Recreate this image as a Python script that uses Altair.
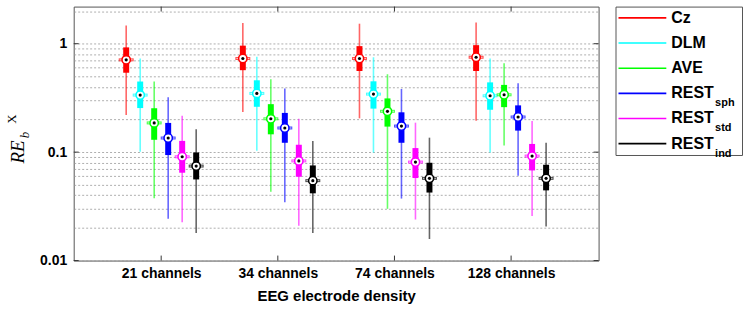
import altair as alt
import pandas as pd

groups = ["21 channels", "34 channels", "74 channels", "128 channels"]
methods = ["Cz", "DLM", "AVE", "REST_sph", "REST_std", "REST_ind"]
method_main = ["Cz", "DLM", "AVE", "REST", "REST", "REST"]
method_sub = ["", "", "", "sph", "std", "ind"]
colors = ["#ff0000", "#00ffff", "#00ff00", "#0000ff", "#ff00ff", "#000000"]

# per method, per group (21, 34, 74, 128 channels)
whisker_hi = [
    [1.47, 1.55, 1.53, 1.57],
    [0.73, 0.76, 0.75, 0.73],
    [0.448, 0.47, 0.523, 0.66],
    [0.32, 0.386, 0.383, 0.432],
    [0.217, 0.203, 0.187, 0.194],
    [0.163, 0.127, 0.136, 0.122],
]
q3 = [
    [0.925, 0.96, 0.95, 0.97],
    [0.448, 0.46, 0.45, 0.44],
    [0.254, 0.277, 0.313, 0.417],
    [0.186, 0.23, 0.233, 0.27],
    [0.127, 0.117, 0.109, 0.119],
    [0.0993, 0.0754, 0.0798, 0.0765],
]
median = [
    [0.71, 0.73, 0.73, 0.75],
    [0.336, 0.348, 0.343, 0.331],
    [0.186, 0.203, 0.238, 0.338],
    [0.135, 0.167, 0.174, 0.211],
    [0.0906, 0.083, 0.081, 0.092],
    [0.0744, 0.0546, 0.0573, 0.0573],
]
q1 = [
    [0.54, 0.57, 0.56, 0.56],
    [0.255, 0.262, 0.252, 0.246],
    [0.13, 0.146, 0.172, 0.26],
    [0.094, 0.122, 0.122, 0.158],
    [0.0646, 0.0593, 0.0577, 0.0678],
    [0.056, 0.0417, 0.0424, 0.0444],
]
whisker_lo = [
    [0.22, 0.234, 0.205, 0.195],
    [0.101, 0.103, 0.099, 0.099],
    [0.0375, 0.0432, 0.030, 0.115],
    [0.0243, 0.0345, 0.0373, 0.0606],
    [0.0226, 0.021, 0.0239, 0.0257],
    [0.018, 0.018, 0.0158, 0.0206],
]

grid_values = [0.01, 0.02, 0.03, 0.04, 0.05, 0.06, 0.07, 0.08, 0.09,
               0.1, 0.2, 0.3, 0.4, 0.5, 0.6, 0.7, 0.8, 0.9, 1, 2]
major_values = [0.01, 0.1, 1]

W, H = 527, 255
OFFSET = 0.12

rows = []
for mi, m in enumerate(methods):
    for gi, g in enumerate(groups):
        rows.append(dict(method=m, group=g, pos=gi + 1 + (mi - 2.5) * OFFSET,
                         wlo=whisker_lo[mi][gi], q1=q1[mi][gi], med=median[mi][gi],
                         q3=q3[mi][gi], whi=whisker_hi[mi][gi]))
df = pd.DataFrame(rows)

label_list = "[" + ",".join("'%s'" % g for g in groups) + "]"
xscale = alt.Scale(domain=[0.25, 4.75], nice=False, zero=False)
yscale = alt.Scale(type="log", domain=[0.01, 2.2], nice=False)
cscale = alt.Scale(domain=methods, range=colors)

x_enc = alt.X("pos:Q", scale=xscale, axis=alt.Axis(
    values=[1, 2, 3, 4], labelExpr=label_list + "[datum.value - 1]",
    title="EEG electrode density", ticks=False, domain=False, grid=False,
    labelFontSize=14, labelFontWeight="bold", labelFont="Liberation Sans",
    labelColor="black", labelPadding=6, titleFontSize=15, titleFontWeight="bold",
    titleFont="Liberation Sans", titleColor="black", titlePadding=8))

y_axis = alt.Axis(values=grid_values, format="~g",
                  labelExpr="(datum.value == 0.01 || datum.value == 0.1 || datum.value == 1) ? datum.label : ''",
                  title=None, ticks=False, domain=False, grid=True,
                  gridDash=[2, 2], gridColor="#9a9a9a", gridWidth=0.8,
                  labelFontSize=14, labelFontWeight="bold", labelFont="Liberation Sans",
                  labelColor="black", labelPadding=7, labelOverlap=False)

color_enc = alt.Color("method:N", scale=cscale, legend=None)

base = alt.Chart(df)

whiskers = base.mark_rule(strokeWidth=1.6, opacity=0.6).encode(
    x=x_enc, y=alt.Y("wlo:Q", scale=yscale, axis=y_axis), y2="whi:Q", color=color_enc)
boxes = base.mark_rule(strokeWidth=6, strokeCap="butt").encode(
    x="pos:Q", y="q1:Q", y2="q3:Q", color=color_enc)
ears = base.mark_tick(orient="horizontal", size=15, thickness=3).encode(
    x="pos:Q", y="med:Q", color=color_enc)
ears_in = base.mark_tick(orient="horizontal", size=13, thickness=1, color="white").encode(
    x="pos:Q", y="med:Q")
circles = base.mark_point(shape="circle", filled=True, fill="white", strokeWidth=1.5,
                          size=70, opacity=1).encode(
    x="pos:Q", y="med:Q", stroke=alt.Stroke("method:N", scale=cscale, legend=None))
dots = base.mark_point(shape="circle", filled=True, color="black", size=10, opacity=1).encode(
    x="pos:Q", y="med:Q")

tick_df = pd.DataFrame({"pos": [1, 2, 3, 4]})
ytick_df = pd.DataFrame({"v": major_values})
xt_bot = alt.Chart(tick_df).mark_rule(color="#333", strokeWidth=1).encode(
    x="pos:Q", y=alt.value(H - 5), y2=alt.value(H))
xt_top = alt.Chart(tick_df).mark_rule(color="#333", strokeWidth=1).encode(
    x="pos:Q", y=alt.value(0), y2=alt.value(5))
yt_left = alt.Chart(ytick_df).mark_rule(color="#333", strokeWidth=1).encode(
    y="v:Q", x=alt.value(0), x2=alt.value(5))
yt_right = alt.Chart(ytick_df).mark_rule(color="#333", strokeWidth=1).encode(
    y="v:Q", x=alt.value(W - 5), x2=alt.value(W))

# y title RE_b^X, rotated (reads bottom to top)
title_parts = ["RE", "b", "X"]
t_main = alt.Chart(pd.DataFrame({"t": [title_parts[0]]})).mark_text(
    angle=270, font="Liberation Serif", fontStyle="italic",
    fontSize=19, align="center", baseline="middle", color="black").encode(
    text="t:N", x=alt.value(-56), y=alt.value(146))
t_sub = alt.Chart(pd.DataFrame({"t": [title_parts[1]]})).mark_text(
    angle=270, font="Liberation Serif", fontStyle="italic", fontSize=13,
    align="center", baseline="middle", color="black").encode(
    text="t:N", x=alt.value(-49), y=alt.value(129))
t_sup = alt.Chart(pd.DataFrame({"t": [title_parts[2]]})).mark_text(
    angle=270, font="Liberation Serif", fontSize=13,
    align="center", baseline="middle", color="black").encode(
    text="t:N", x=alt.value(-62), y=alt.value(113))

main = alt.layer(whiskers, boxes, ears, ears_in, circles, dots,
                 xt_bot, xt_top, yt_left, yt_right, t_main, t_sub, t_sup).properties(width=W, height=H)

# legend panel
leg_df = pd.DataFrame({"method": methods, "main": method_main, "sub": method_sub})
ly = alt.Y("method:N", scale=alt.Scale(domain=methods, type="point", padding=0.45), axis=None)
leg_lines = alt.Chart(leg_df).mark_rule(strokeWidth=1.6).encode(
    y=ly, x=alt.value(3), x2=alt.value(51), color=color_enc)
leg_text = alt.Chart(leg_df).mark_text(align="left", baseline="middle", fontSize=16,
                                       fontWeight="bold", font="Liberation Sans", color="black").encode(
    y=ly, x=alt.value(56), text="main:N")
leg_sub = alt.Chart(leg_df).mark_text(align="left", baseline="middle", fontSize=11, dy=10,
                                      fontWeight="bold", font="Liberation Sans", color="black").encode(
    y=ly, x=alt.value(100), text="sub:N")
legend = alt.layer(leg_lines, leg_text, leg_sub).properties(width=127, height=149)

chart = alt.hconcat(main, legend, spacing=15).properties(
    padding={"left": 5, "top": 3, "right": 0, "bottom": 0}
).configure_view(stroke="#555", strokeWidth=1).configure_concat(spacing=15)

chart.save("out.html", embed_options={"renderer": "svg", "actions": False})
